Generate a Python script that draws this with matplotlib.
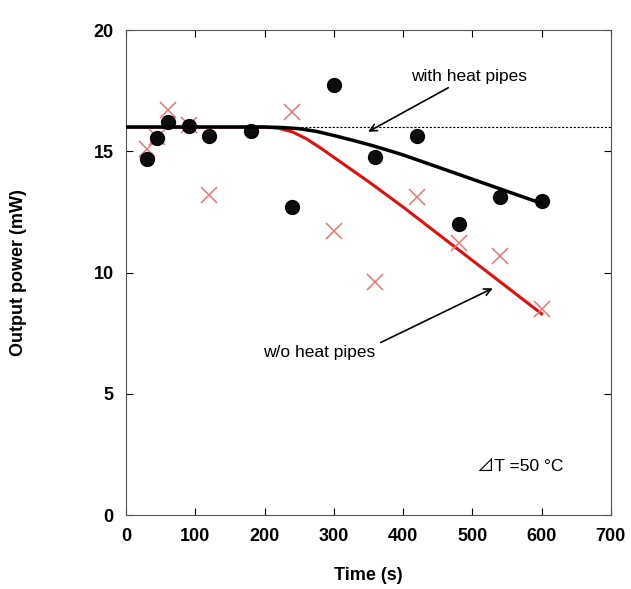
import matplotlib.pyplot as plt

# measured data
t_with = [30, 45, 60, 90, 120, 180, 240, 300, 360, 420, 480, 540, 600]
p_with = [14.7, 15.55, 16.2, 16.05, 15.65, 15.85, 12.7, 17.75, 14.75, 15.65, 12.0, 13.1, 12.95]
t_wo = [30, 45, 60, 90, 120, 240, 300, 360, 420, 480, 540, 600]
p_wo = [15.1, 15.6, 16.7, 16.1, 13.2, 16.6, 11.7, 9.6, 13.1, 11.2, 10.7, 8.5]

# fitted curves
fit_t_with = [0, 200, 225, 250, 275, 300, 325, 350, 375, 400, 425, 450, 475,
              500, 525, 550, 575, 600]
fit_p_with = [16.0, 16.0, 15.98, 15.93, 15.82, 15.65, 15.47, 15.28, 15.07, 14.85,
              14.6, 14.35, 14.1, 13.85, 13.6, 13.35, 13.1, 12.85]
fit_t_wo = [0, 200, 220, 240, 260, 280, 300, 325, 350, 400, 450, 500, 550, 600]
fit_p_wo = [16.0, 16.0, 15.95, 15.8, 15.52, 15.15, 14.75, 14.25, 13.75, 12.7,
            11.6, 10.5, 9.4, 8.3]

plt.rcParams['font.family'] = ['Liberation Sans', 'DejaVu Sans']

fig = plt.figure(figsize=(6.31, 5.89), dpi=100)
ax = fig.add_axes([0.2, 0.1256, 0.768, 0.8234])

ax.axhline(16, color='black', lw=0.8, ls=(0, (2, 1.5)), zorder=1)
ax.plot(fit_t_wo, fit_p_wo, color='#e01010', lw=2.2, zorder=2)
ax.plot(fit_t_with, fit_p_with, color='black', lw=2.5, zorder=3)
ax.plot(t_wo, p_wo, ls='none', marker='x', ms=11, mew=1.1, color='#e87575', zorder=4)
ax.plot(t_with, p_with, ls='none', marker='o', ms=10, color='black', alpha=0.95, zorder=5)

ax.annotate('with heat pipes', xy=(346, 15.75), xytext=(412, 18.1),
            fontsize=12.5, ha='left', va='center',
            arrowprops=dict(arrowstyle='->', color='black', lw=1.2))
ax.annotate('w/o heat pipes', xy=(533, 9.4), xytext=(279, 6.7),
            fontsize=12.5, ha='center', va='center',
            arrowprops=dict(arrowstyle='->', color='black', lw=1.2,
                            relpos=(1.0, 1.0)))
ax.text(507, 2.0, '\u22bfT =50 \u00b0C', fontsize=12.5, ha='left', va='center',
        family=['Liberation Sans', 'Noto Sans CJK JP', 'DejaVu Sans'])

ax.set_xlim(0, 700)
ax.set_ylim(0, 20)
ax.set_xticks(range(0, 701, 100))
ax.set_yticks(range(0, 21, 5))
ax.tick_params(direction='in', top=True, right=True, length=5, labelsize=13, pad=9)
for lab in ax.get_xticklabels() + ax.get_yticklabels():
    lab.set_fontweight('bold')
for s in ax.spines.values():
    s.set_color('#555555')
ax.set_xlabel('Time (s)', fontsize=13, fontweight='bold')
ax.set_ylabel('Output power (mW)', fontsize=13, fontweight='bold')
ax.xaxis.set_label_coords(0.5, -0.108)
ax.yaxis.set_label_coords(-0.205, 0.5)

fig.savefig('out.png')
